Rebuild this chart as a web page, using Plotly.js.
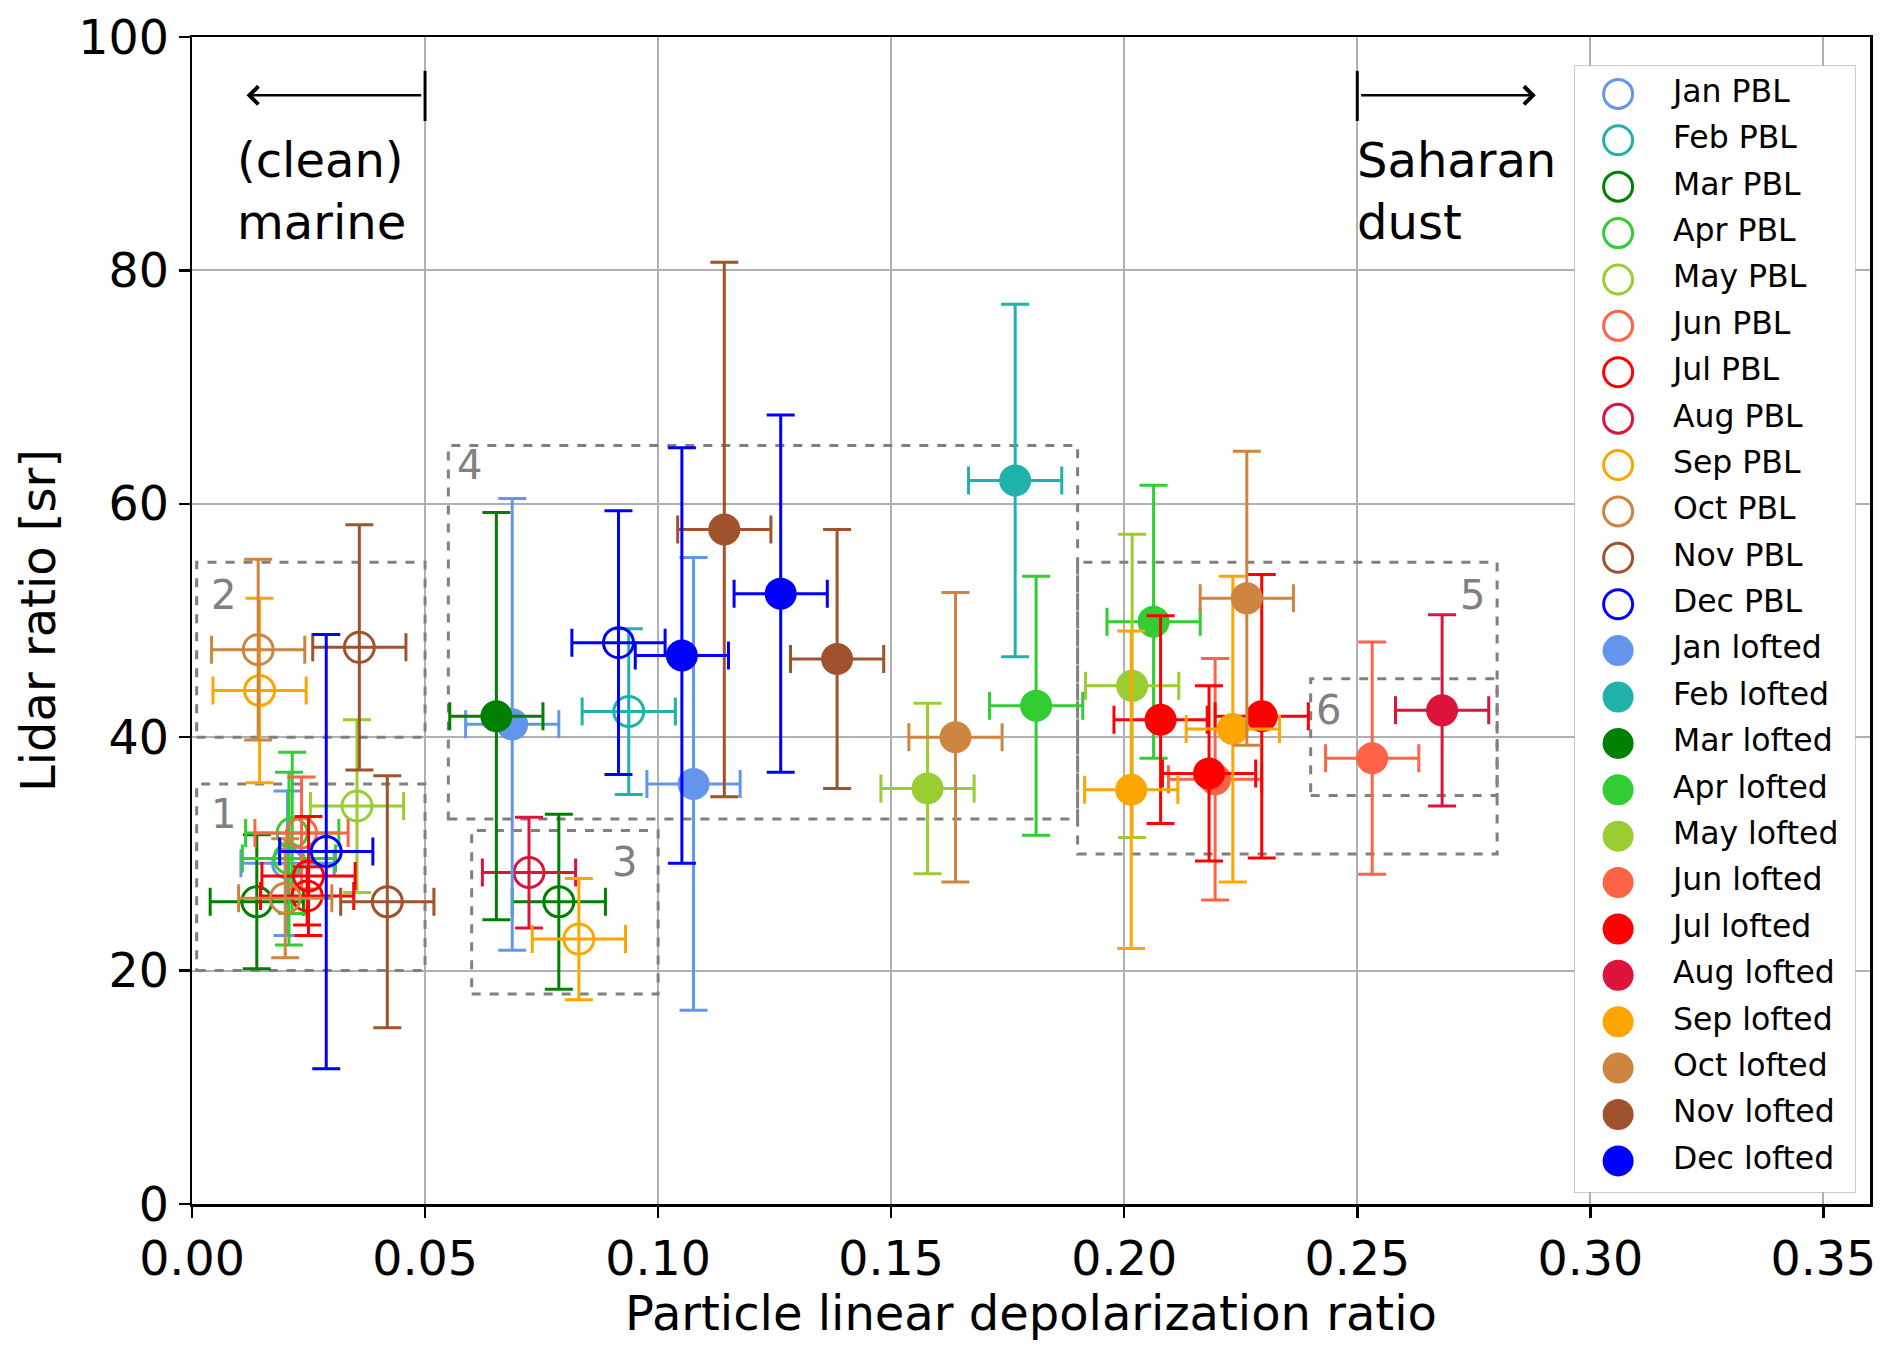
<!DOCTYPE html>
<html>
<head>
<meta charset="utf-8">
<script src="https://cdn.plot.ly/plotly-3.0.1.min.js"></script>
<style>
  html, body { margin: 0; padding: 0; background: #fff; }
  #myDiv { width: 1892px; height: 1350px; }
</style>
</head>
<body>
<div id="myDiv"></div>
<script>
"use strict";

// month names and the colour used for each month
var months = ['Jan', 'Feb', 'Mar', 'Apr', 'May', 'Jun', 'Jul', 'Aug', 'Sep', 'Oct', 'Nov', 'Dec'];
var monthColors = ['#6495ED', '#20B2AA', '#008000', '#32CD32', '#9ACD32', '#FF6347',
                   '#FF0000', '#DC143C', '#FFA500', '#CD853F', '#A0522D', '#0000FF'];

// PBL values, one list per month (depolarization ratio, lidar ratio, errors)
var pblX    = [[0.0205], [0.0937], [0.0139, 0.0787], [0.0215, 0.0208], [0.0354], [0.0235],
               [0.0250, 0.0247], [0.0723], [0.0145, 0.0830], [0.0142, 0.0200], [0.0359, 0.0419], [0.0288, 0.0915]];
var pblY    = [[29.2], [42.2], [25.9, 25.9], [31.8, 29.6], [34.1], [31.8],
               [28.1, 26.4], [28.4], [44.0, 22.7], [47.5, 26.2], [47.7, 25.9], [30.2, 48.1]];
var pblXErr = [[0.010], [0.010], [0.010, 0.010], [0.010, 0.010], [0.010], [0.010],
               [0.010, 0.010], [0.010], [0.010, 0.010], [0.010, 0.010], [0.010, 0.010], [0.010, 0.010]];
var pblYErr = [[6.2], [7.1], [5.75, 7.5], [6.9, 7.4], [7.4], [4.8],
               [5.1, 2.5], [4.75], [7.9, 5.2], [7.75, 5.1], [10.5, 10.8], [18.6, 11.3]];

// lofted layer values, one list per month
var loftX    = [[0.0687, 0.1076], [0.1766], [0.0653], [0.1811, 0.2063], [0.1578, 0.2017], [0.2532, 0.2195],
                [0.2078, 0.2295, 0.2182], [0.2682], [0.2015, 0.2233], [0.1638, 0.2263], [0.1142, 0.1384], [0.1051, 0.1263]];
var loftY    = [[41.1, 36.0], [62.0], [41.8], [42.7, 49.9], [35.6, 44.4], [38.2, 36.4],
                [41.5, 41.8, 36.9], [42.3], [35.5, 40.7], [40.0, 51.9], [57.8, 46.7], [47.0, 52.3]];
var loftXErr = [[0.010, 0.010], [0.010], [0.010], [0.010, 0.010], [0.010, 0.010], [0.010, 0.010],
                [0.010, 0.010, 0.010], [0.010], [0.010, 0.010], [0.010, 0.010], [0.010, 0.010], [0.010, 0.010]];
var loftYErr = [[19.35, 19.4], [15.1], [17.45], [11.1, 11.7], [7.3, 13.0], [9.95, 10.35],
                [8.9, 12.15, 7.5], [8.2], [13.6, 13.1], [12.4, 12.6], [22.9, 11.1], [17.8, 15.3]];

// aerosol type regions: [x0, x1, y0, y1] and their labels
var boxNames  = ['1', '2', '3', '4', '5', '6'];
var boxLimits = [[0.001, 0.05, 20, 36], [0.001, 0.05, 40, 55], [0.06, 0.10, 18, 32],
                 [0.055, 0.19, 33, 65], [0.19, 0.28, 30, 55], [0.24, 0.28, 35, 45]];
var boxLabelX = [0.0068, 0.0067, 0.0928, 0.0596, 0.2748, 0.2439];
var boxLabelY = [33.4, 52.2, 29.3, 63.3, 52.2, 42.3];

var FONT = 'DejaVu Sans, Liberation Sans, sans-serif';

function makeTrace(m, xs, ys, xe, ye, open) {
	var c = monthColors[m];
	return {
		x: xs, y: ys,
		type: 'scatter', mode: 'markers',
		name: months[m] + (open ? ' PBL' : ' lofted'),
		showlegend: false,
		marker: open
			? { symbol: 'circle-open', size: 30, color: c, line: { width: 3, color: c } }
			: { symbol: 'circle', size: 32, color: c, line: { width: 0 } },
		error_x: { type: 'data', array: xe, visible: true, color: c, thickness: 3, width: 14 },
		error_y: { type: 'data', array: ye, visible: true, color: c, thickness: 3, width: 14 }
	};
}

var plotData = [];
for (var m = 0; m < months.length; m++)
	plotData.push(makeTrace(m, pblX[m], pblY[m], pblXErr[m], pblYErr[m], true));
for (var m = 0; m < months.length; m++)
	plotData.push(makeTrace(m, loftX[m], loftY[m], loftXErr[m], loftYErr[m], false));

// legend drawn on its own small hidden axes so the symbols can be as big as in the figure
var legendRows = months.map(function (mm, i) { return i; });
var legendLoftRows = months.map(function (mm, i) { return i + months.length; });
var legendNames = months.map(function (mm) { return mm + ' PBL'; })
	.concat(months.map(function (mm) { return mm + ' lofted'; }));
plotData.push({
	x: legendRows.map(function () { return 0.154; }), y: legendRows,
	xaxis: 'x2', yaxis: 'y2', type: 'scatter', mode: 'markers', showlegend: false, hoverinfo: 'skip',
	marker: { symbol: 'circle-open', size: 29, color: monthColors, line: { width: 3, color: monthColors } }
});
plotData.push({
	x: legendLoftRows.map(function () { return 0.154; }), y: legendLoftRows,
	xaxis: 'x2', yaxis: 'y2', type: 'scatter', mode: 'markers', showlegend: false, hoverinfo: 'skip',
	marker: { symbol: 'circle', size: 31, color: monthColors, line: { width: 0 } }
});
plotData.push({
	x: legendNames.map(function () { return 0.35; }), y: legendRows.concat(legendLoftRows),
	xaxis: 'x2', yaxis: 'y2', type: 'scatter', mode: 'text', showlegend: false, hoverinfo: 'skip',
	text: legendNames, textposition: 'middle right', cliponaxis: false,
	textfont: { family: FONT, size: 31.5, color: '#000' }
});

var shapes = boxLimits.map(function (b) {
	return {
		type: 'rect', xref: 'x', yref: 'y', layer: 'between',
		x0: b[0], x1: b[1], y0: b[2], y1: b[3],
		line: { color: '#808080', width: 3, dash: 'dash' }
	};
});
// small vertical bars at the start of the two arrows
shapes.push({ type: 'line', xref: 'x', yref: 'y', x0: 0.05, x1: 0.05, y0: 92.8, y1: 97.1,
	line: { color: '#000', width: 3 } });
shapes.push({ type: 'line', xref: 'x', yref: 'y', x0: 0.25, x1: 0.25, y0: 92.8, y1: 97.1,
	line: { color: '#000', width: 3 } });
// legend frame
shapes.push({ type: 'rect', xref: 'x2 domain', yref: 'y2 domain', layer: 'below',
	x0: 0, x1: 1, y0: 0, y1: 1,
	fillcolor: 'rgba(255,255,255,0.8)', line: { color: '#cccccc', width: 2 } });

var annotations = boxNames.map(function (t, i) {
	return {
		x: boxLabelX[i], y: boxLabelY[i], xref: 'x', yref: 'y', text: t, showarrow: false,
		font: { family: FONT, size: 40, color: '#808080' }
	};
});
annotations.push({ x: 0.0117, y: 95, ax: 0.0495, ay: 95, xref: 'x', yref: 'y', axref: 'x', ayref: 'y',
	text: '', showarrow: true, arrowhead: 4, arrowsize: 1.4, arrowwidth: 2.5, arrowcolor: '#000' });
annotations.push({ x: 0.2883, y: 95, ax: 0.2505, ay: 95, xref: 'x', yref: 'y', axref: 'x', ayref: 'y',
	text: '', showarrow: true, arrowhead: 4, arrowsize: 1.4, arrowwidth: 2.5, arrowcolor: '#000' });
annotations.push({ x: 0.0093, y: 92.0, xref: 'x', yref: 'y', xanchor: 'left', yanchor: 'top', align: 'left',
	text: '(clean)<br>marine', showarrow: false, font: { family: FONT, size: 48, color: '#000' } });
annotations.push({ x: 0.2496, y: 92.0, xref: 'x', yref: 'y', xanchor: 'left', yanchor: 'top', align: 'left',
	text: 'Saharan<br>dust', showarrow: false, font: { family: FONT, size: 48, color: '#000' } });

var axisCommon = {
	showline: true, mirror: true, linecolor: '#000', linewidth: 2.5,
	ticks: 'outside', ticklen: 11, tickwidth: 2.5, tickcolor: '#000',
	showgrid: true, gridcolor: '#b0b0b0', gridwidth: 2,
	zeroline: false,
	tickfont: { family: FONT, size: 47.5, color: '#000' }
};

var layout = {
	width: 1892, height: 1350,
	margin: { l: 192, r: 22, t: 37, b: 146 },
	paper_bgcolor: '#fff', plot_bgcolor: '#fff',
	font: { family: FONT, color: '#000' },
	xaxis: Object.assign({}, axisCommon, {
		range: [0, 0.36], tick0: 0, dtick: 0.05, tickformat: '.2f',
		title: { text: 'Particle linear depolarization ratio', font: { family: FONT, size: 48, color: '#000' }, standoff: 0 }
	}),
	yaxis: Object.assign({}, axisCommon, {
		range: [0, 100], tick0: 0, dtick: 20,
		title: { text: 'Lidar ratio [sr]', font: { family: FONT, size: 48, color: '#000' }, standoff: 8 }
	}),
	xaxis2: { domain: [0.8242, 0.991], range: [0, 1], anchor: 'y2', visible: false, fixedrange: true },
	yaxis2: { domain: [0.0103, 0.9751], range: [23.67, -0.6], anchor: 'x2', visible: false, fixedrange: true },
	showlegend: false,
	shapes: shapes,
	annotations: annotations
};

Plotly.newPlot('myDiv', plotData, layout, { staticPlot: true });
</script>
</body>
</html>
